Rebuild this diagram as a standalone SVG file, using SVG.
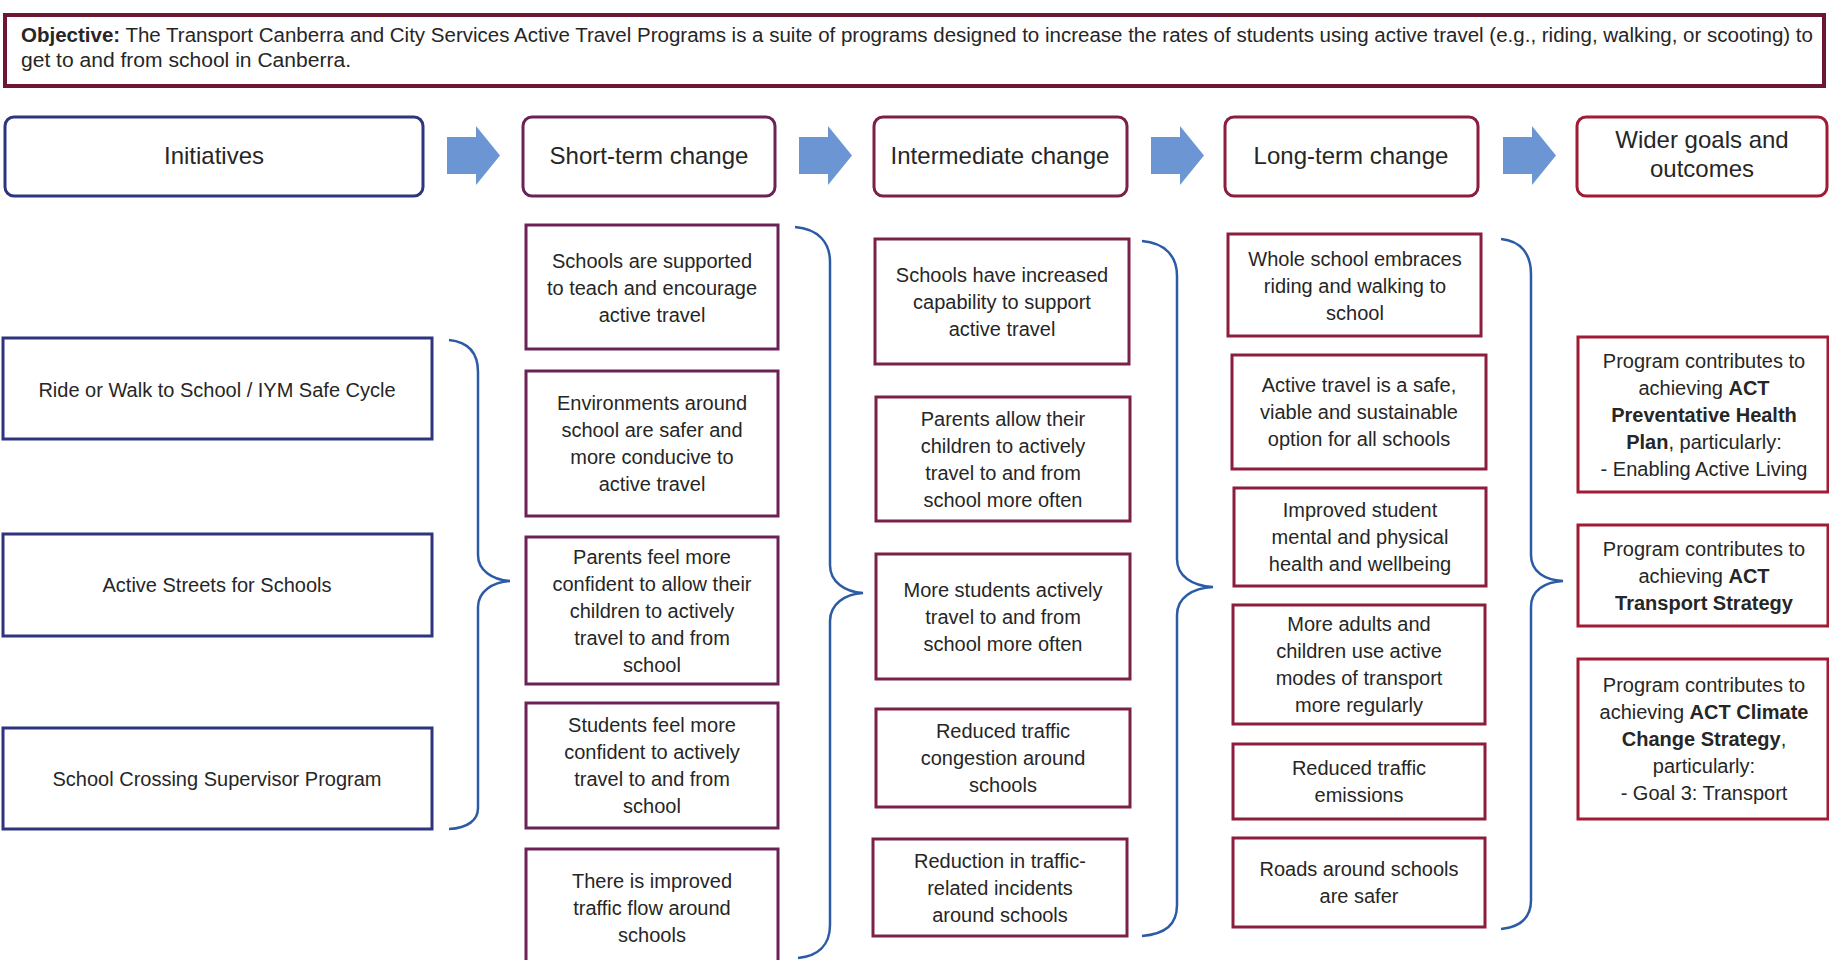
<svg xmlns="http://www.w3.org/2000/svg" width="1829" height="960" viewBox="0 0 1829 960">
<style>
text{font-family:"Liberation Sans",Arial,sans-serif;fill:#262626}
.t{font-size:20px;text-anchor:middle}
.h{font-size:24px;text-anchor:middle}
.o{font-size:20px}
.b{font-weight:bold}
.hd{fill:#fff;stroke-width:3}
.bx{fill:#fff;stroke-width:3}
.ini{stroke:#2f347f}
.st{stroke:#6b2257}
.im{stroke:#7b2046}
.lt{stroke:#8b1d3d}
.wg{stroke:#a01b33}
.arr{fill:#6b95d3}
.br{fill:none;stroke:#2c5ba6;stroke-width:2.5}
</style>
<defs>
<polygon id="arrow" points="0,11 29,11 29,0 53,29.5 29,59 29,48 0,48"/>
</defs>
<rect width="1829" height="960" fill="#fff"/>

<g id="objective">
<rect x="5" y="15" width="1819" height="71" fill="#fff" stroke="#6e1632" stroke-width="4"/>
<text class="o" x="21" y="42" textLength="1792" lengthAdjust="spacingAndGlyphs"><tspan class="b">Objective:</tspan> The Transport Canberra and City Services Active Travel Programs is a suite of programs designed to increase the rates of students using active travel (e.g., riding, walking, or scooting) to</text>
<text class="o" x="21" y="67" textLength="330" lengthAdjust="spacingAndGlyphs">get to and from school in Canberra.</text>
</g>

<g id="headers">
<g id="h-initiatives"><rect class="hd ini" x="5" y="117" width="418" height="79" rx="9"/><text class="h" x="214" y="164">Initiatives</text></g>
<g id="h-short"><rect class="hd st" x="523" y="117" width="252" height="79" rx="9"/><text class="h" x="649" y="164">Short-term change</text></g>
<g id="h-inter"><rect class="hd im" x="874" y="117" width="253" height="79" rx="9"/><text class="h" x="1000" y="164">Intermediate change</text></g>
<g id="h-long"><rect class="hd lt" x="1225" y="117" width="253" height="79" rx="9"/><text class="h" x="1351" y="164">Long-term change</text></g>
<g id="h-wider"><rect class="hd wg" x="1577" y="117" width="250" height="79" rx="9"/><text class="h" x="1702" y="148">Wider goals and</text><text class="h" x="1702" y="177">outcomes</text></g>
</g>

<g id="connectors">
<use href="#arrow" class="arr" x="447" y="126"/>
<use href="#arrow" class="arr" x="799" y="126"/>
<use href="#arrow" class="arr" x="1151" y="126"/>
<use href="#arrow" class="arr" x="1503" y="126"/>
<path class="br" d="M449,340 C468,342 478,352 478,372 L478,555 C478,570 492,580 510,581 C492,582 478,592 478,607 L478,808 C478,820 468,828 449,829"/>
<path class="br" d="M795,227 C818,229 830,242 830,262 L830,565 C830,582 845,592 863,593 C845,594 830,604 830,621 L830,925 C830,945 818,956 798,958"/>
<path class="br" d="M1142,241 C1165,243 1177,256 1177,276 L1177,559 C1177,576 1192,586 1213,587 C1192,588 1177,598 1177,615 L1177,905 C1177,925 1165,934 1142,936"/>
<path class="br" d="M1501,239 C1521,241 1531,254 1531,274 L1531,555 C1531,572 1545,580 1563,581 C1545,582 1531,590 1531,607 L1531,900 C1531,918 1521,927 1501,929"/>
</g>

<g id="initiatives">
<g id="i1"><rect class="bx ini" x="3" y="338" width="429" height="101"/><text class="t" x="217" y="397">Ride or Walk to School / IYM Safe Cycle</text></g>
<g id="i2"><rect class="bx ini" x="3" y="534" width="429" height="102"/><text class="t" x="217" y="592">Active Streets for Schools</text></g>
<g id="i3"><rect class="bx ini" x="3" y="728" width="429" height="101"/><text class="t" x="217" y="786">School Crossing Supervisor Program</text></g>
</g>

<g id="short-term">
<g id="s1"><rect class="bx st" x="526" y="225" width="252" height="124"/><text class="t" x="652" y="268">Schools are supported</text><text class="t" x="652" y="295">to teach and encourage</text><text class="t" x="652" y="322">active travel</text></g>
<g id="s2"><rect class="bx st" x="526" y="371" width="252" height="145"/><text class="t" x="652" y="410">Environments around</text><text class="t" x="652" y="437">school are safer and</text><text class="t" x="652" y="464">more conducive to</text><text class="t" x="652" y="491">active travel</text></g>
<g id="s3"><rect class="bx st" x="526" y="537" width="252" height="147"/><text class="t" x="652" y="564">Parents feel more</text><text class="t" x="652" y="591">confident to allow their</text><text class="t" x="652" y="618">children to actively</text><text class="t" x="652" y="645">travel to and from</text><text class="t" x="652" y="672">school</text></g>
<g id="s4"><rect class="bx st" x="526" y="703" width="252" height="125"/><text class="t" x="652" y="732">Students feel more</text><text class="t" x="652" y="759">confident to actively</text><text class="t" x="652" y="786">travel to and from</text><text class="t" x="652" y="813">school</text></g>
<g id="s5"><rect class="bx st" x="526" y="849" width="252" height="130"/><text class="t" x="652" y="888">There is improved</text><text class="t" x="652" y="915">traffic flow around</text><text class="t" x="652" y="942">schools</text></g>
</g>

<g id="intermediate">
<g id="m1"><rect class="bx im" x="875" y="239" width="254" height="125"/><text class="t" x="1002" y="282">Schools have increased</text><text class="t" x="1002" y="309">capability to support</text><text class="t" x="1002" y="336">active travel</text></g>
<g id="m2"><rect class="bx im" x="876" y="397" width="254" height="124"/><text class="t" x="1003" y="426">Parents allow their</text><text class="t" x="1003" y="453">children to actively</text><text class="t" x="1003" y="480">travel to and from</text><text class="t" x="1003" y="507">school more often</text></g>
<g id="m3"><rect class="bx im" x="876" y="554" width="254" height="125"/><text class="t" x="1003" y="597">More students actively</text><text class="t" x="1003" y="624">travel to and from</text><text class="t" x="1003" y="651">school more often</text></g>
<g id="m4"><rect class="bx im" x="876" y="709" width="254" height="98"/><text class="t" x="1003" y="738">Reduced traffic</text><text class="t" x="1003" y="765">congestion around</text><text class="t" x="1003" y="792">schools</text></g>
<g id="m5"><rect class="bx im" x="873" y="839" width="254" height="97"/><text class="t" x="1000" y="868">Reduction in traffic-</text><text class="t" x="1000" y="895">related incidents</text><text class="t" x="1000" y="922">around schools</text></g>
</g>

<g id="long-term">
<g id="l1"><rect class="bx lt" x="1228" y="234" width="253" height="102"/><text class="t" x="1355" y="266">Whole school embraces</text><text class="t" x="1355" y="293">riding and walking to</text><text class="t" x="1355" y="320">school</text></g>
<g id="l2"><rect class="bx lt" x="1232" y="355" width="254" height="114"/><text class="t" x="1359" y="392">Active travel is a safe,</text><text class="t" x="1359" y="419">viable and sustainable</text><text class="t" x="1359" y="446">option for all schools</text></g>
<g id="l3"><rect class="bx lt" x="1234" y="488" width="252" height="98"/><text class="t" x="1360" y="517">Improved student</text><text class="t" x="1360" y="544">mental and physical</text><text class="t" x="1360" y="571">health and wellbeing</text></g>
<g id="l4"><rect class="bx lt" x="1233" y="605" width="252" height="119"/><text class="t" x="1359" y="631">More adults and</text><text class="t" x="1359" y="658">children use active</text><text class="t" x="1359" y="685">modes of transport</text><text class="t" x="1359" y="712">more regularly</text></g>
<g id="l5"><rect class="bx lt" x="1233" y="744" width="252" height="75"/><text class="t" x="1359" y="775">Reduced traffic</text><text class="t" x="1359" y="802">emissions</text></g>
<g id="l6"><rect class="bx lt" x="1233" y="838" width="252" height="89"/><text class="t" x="1359" y="876">Roads around schools</text><text class="t" x="1359" y="903">are safer</text></g>
</g>

<g id="wider-goals">
<g id="w1"><rect class="bx wg" x="1578" y="337" width="250" height="155"/><text class="t" x="1704" y="368">Program contributes to</text><text class="t" x="1704" y="395">achieving <tspan class="b">ACT</tspan></text><text class="t b" x="1704" y="422">Preventative Health</text><text class="t" x="1704" y="449"><tspan class="b">Plan</tspan>, particularly:</text><text class="t" x="1704" y="476">- Enabling Active Living</text></g>
<g id="w2"><rect class="bx wg" x="1578" y="525" width="250" height="101"/><text class="t" x="1704" y="556">Program contributes to</text><text class="t" x="1704" y="583">achieving <tspan class="b">ACT</tspan></text><text class="t b" x="1704" y="610">Transport Strategy</text></g>
<g id="w3"><rect class="bx wg" x="1578" y="659" width="250" height="160"/><text class="t" x="1704" y="692">Program contributes to</text><text class="t" x="1704" y="719">achieving <tspan class="b">ACT Climate</tspan></text><text class="t" x="1704" y="746"><tspan class="b">Change Strategy</tspan>,</text><text class="t" x="1704" y="773">particularly:</text><text class="t" x="1704" y="800">- Goal 3: Transport</text></g>
</g>
</svg>
